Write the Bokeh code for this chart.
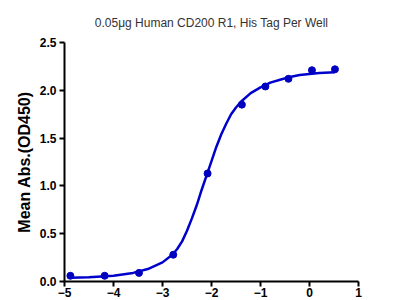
from bokeh.plotting import figure
from bokeh.models import Range1d, FixedTicker, PrintfTickFormatter
from bokeh.embed import file_html
from bokeh.resources import INLINE

# Measured points: log concentration vs mean absorbance
log_conc = [-4.88, -4.18, -3.48, -2.78, -2.08, -1.38, -0.90, -0.43, 0.05, 0.52]
mean_abs = [0.06, 0.06, 0.09, 0.28, 1.13, 1.85, 2.04, 2.12, 2.21, 2.22]

# Fitted curve
curve_x = [-4.88, -4.5, -4.0, -3.6, -3.3, -3.0, -2.8, -2.7, -2.6, -2.5, -2.4,
           -2.3, -2.2, -2.1, -2.0, -1.9, -1.8, -1.7, -1.6, -1.5, -1.4, -1.2,
           -1.0, -0.8, -0.6, -0.4, -0.2, 0.0, 0.2, 0.52]
curve_y = [0.04, 0.045, 0.06, 0.09, 0.13, 0.20, 0.28, 0.34, 0.42, 0.53, 0.66,
           0.80, 0.96, 1.11, 1.26, 1.41, 1.54, 1.65, 1.75, 1.82, 1.88, 1.97,
           2.03, 2.08, 2.11, 2.14, 2.16, 2.17, 2.18, 2.19]

x_ticks = [-5, -4, -3, -2, -1, 0, 1]
y_ticks = [0.0, 0.5, 1.0, 1.5, 2.0, 2.5]
title_text = "0.05\u03bcg Human CD200 R1, His Tag Per Well"
y_label = "Mean Abs.(OD450)"

p = figure(width=400, height=300, output_backend="svg", toolbar_location=None,
           x_range=Range1d(-5, 1), y_range=Range1d(0, 2.5),
           min_border_left=64, min_border_right=42, min_border_top=42,
           min_border_bottom=19, title=title_text)
p.outline_line_color = None
p.xgrid.visible = False
p.ygrid.visible = False
p.background_fill_color = "white"
p.border_fill_color = "white"

p.title.align = "center"
p.title.text_font = "Liberation Sans"
p.title.text_font_size = "12px"
p.title.text_font_style = "normal"
p.title.text_color = "#333333"
p.title.standoff = 26

p.line(curve_x, curve_y, line_color="#0000CD", line_width=2.5)
p.scatter(log_conc, mean_abs, size=7, fill_color="#0000C0", line_color="#0000C0")

for ax in (p.xaxis[0], p.yaxis[0]):
    ax.axis_line_width = 2
    ax.axis_line_color = "black"
    ax.major_tick_line_width = 2
    ax.major_tick_line_color = "black"
    ax.major_tick_out = 5
    ax.major_tick_in = 0
    ax.minor_tick_line_color = None
    ax.major_label_text_font = "Liberation Sans"
    ax.major_label_text_font_style = "bold"
    ax.major_label_text_font_size = "12px"
    ax.major_label_text_color = "black"

p.xaxis[0].ticker = FixedTicker(ticks=x_ticks)
p.xaxis[0].major_label_standoff = 1
p.yaxis[0].ticker = FixedTicker(ticks=y_ticks)
p.yaxis[0].formatter = PrintfTickFormatter(format="%.1f")
p.yaxis[0].major_label_standoff = 3
p.yaxis[0].axis_label = y_label
p.yaxis[0].axis_label_text_font = "Liberation Sans"
p.yaxis[0].axis_label_text_font_style = "bold"
p.yaxis[0].axis_label_text_font_size = "16px"
p.yaxis[0].axis_label_text_color = "black"
p.yaxis[0].axis_label_standoff = 4

open("out.html", "w").write(file_html(p, INLINE))
